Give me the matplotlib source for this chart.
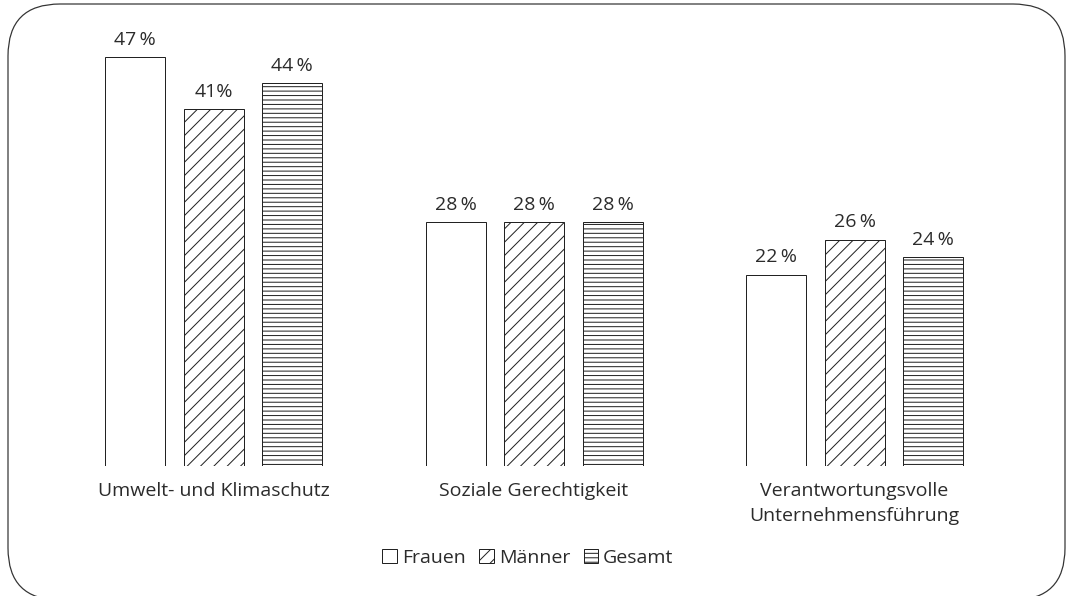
import matplotlib.pyplot as plt
import numpy as np
from matplotlib.patches import FancyBboxPatch

plt.rcParams['font.family'] = ['Open Sans', 'DejaVu Sans']
plt.rcParams['hatch.linewidth'] = 0.9

# data
categories = ["Umwelt- und Klimaschutz", "Soziale Gerechtigkeit",
              "Verantwortungsvolle\nUnternehmensführung"]
series = ["Frauen", "Männer", "Gesamt"]
frauen = [47, 28, 22]
maenner = [41, 28, 26]
gesamt = [44, 28, 24]
values = [frauen, maenner, gesamt]
hatches = ["", "//", "---"]

DPI = 80
W, H = 1067, 596
TEXT = "#2b2b2b"
EDGE = "#222222"
FS = 17.5

fig = plt.figure(figsize=(W / DPI, H / DPI), dpi=DPI)

# axes spans the full width, baseline at 466 px from the top
base_px = 466
px_per_pct = 8.70
ax = fig.add_axes([0, (H - base_px) / H, 1, base_px / H])
group_px = 320.5
first_px = 213.5
ax.set_xlim(-first_px / group_px, (W - first_px) / group_px)
ax.set_ylim(0, base_px / px_per_pct)

x = np.arange(len(categories))
width = 60 / group_px
step = 78.5 / group_px

for i, (name, vals, h) in enumerate(zip(series, values, hatches)):
    pos = x + (i - 1) * step
    bars = ax.bar(pos, vals, width, facecolor="white", edgecolor=EDGE,
                  linewidth=0.9, hatch=h, label=name)
    for b, v in zip(bars, vals):
        lab = f"{v}%" if v == 41 else f"{v}\u2009%"
        ax.annotate(lab, (b.get_x() + b.get_width() / 2, v),
                    xytext=(0, 7.5), textcoords="offset points",
                    ha="center", va="bottom", fontsize=FS, color=TEXT)

ax.set_xticks(x)
ax.set_xticklabels(categories, fontsize=FS, color=TEXT, linespacing=1.55)
ax.tick_params(axis="x", length=0, pad=14)
ax.set_yticks([])
for s in ax.spines.values():
    s.set_visible(False)
ax.patch.set_visible(False)

fig.legend(loc="center", bbox_to_anchor=(528 / W, 1 - 558 / H), ncol=3,
           frameon=False, fontsize=FS, handlelength=0.75, handleheight=0.75,
           handletextpad=0.25, columnspacing=0.7, labelcolor=TEXT)

# rounded outer frame
frame = FancyBboxPatch((8 / DPI, (H - 600) / DPI), (1065 - 8) / DPI, (600 - 4) / DPI,
                       boxstyle="round,pad=0,rounding_size=0.65",
                       transform=fig.dpi_scale_trans, facecolor="none",
                       edgecolor="#333333", linewidth=1.1, clip_on=False)
fig.patches.append(frame)

fig.savefig("out.png", dpi=DPI)
